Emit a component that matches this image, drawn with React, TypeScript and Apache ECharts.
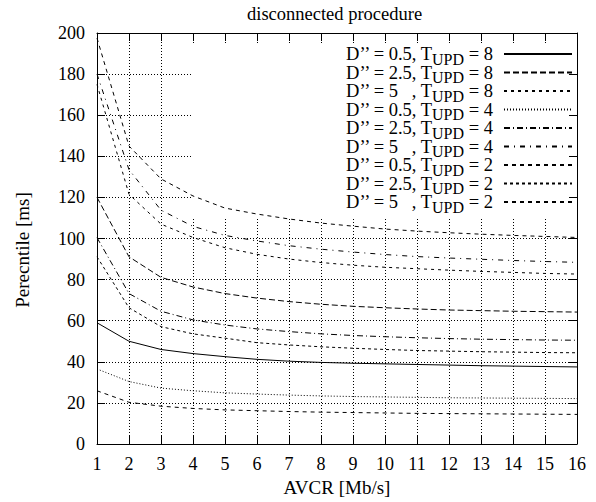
import { useEffect, useRef } from 'react';
import * as echarts from 'echarts';

// AVCR [Mb/s]
const xValues = [1, 2, 3, 4, 5, 6, 7, 8, 9, 10, 11, 12, 13, 14, 15, 16];

// Percentile [ms] for each (D'', T_UPD)
const d05t8 = [59, 50, 46, 44, 42.5, 41.2, 40.3, 39.7, 39.3, 39, 38.7, 38.4, 38.1, 37.9, 37.7, 37.5];
const d25t8 = [120, 91.1, 81.1, 76.4, 73.2, 71, 69.3, 68, 67, 66.3, 65.7, 65.2, 64.9, 64.6, 64.4, 64.2];
const d5t8 = [175, 121.5, 107, 100.5, 95.5, 92.3, 90, 88.3, 87, 86, 85.3, 84.6, 84, 83.5, 83, 82.7];
const d05t4 = [36.5, 30.4, 27.2, 25.9, 24.9, 24.3, 23.8, 23.4, 23.1, 22.9, 22.7, 22.5, 22.4, 22.3, 22.2, 22.1];
const d25t4 = [100.4, 73.2, 64.6, 60.4, 57.9, 56, 54.7, 53.6, 52.8, 52.2, 51.7, 51.3, 51, 50.8, 50.6, 50.5];
const d5t4 = [180, 133.5, 113.8, 105.9, 101.5, 98.8, 96.5, 94.8, 93.4, 92.2, 91.2, 90.5, 89.9, 89.3, 88.8, 88.4];
const d05t2 = [25.9, 20.3, 18.4, 17.3, 16.6, 16.2, 15.8, 15.5, 15.3, 15.1, 14.9, 14.8, 14.7, 14.6, 14.5, 14.4];
const d25t2 = [91.1, 66.3, 57.1, 53.6, 51.5, 49.3, 48.2, 47.3, 46.6, 46, 45.5, 45.2, 44.9, 44.7, 44.5, 44.4];
const d5t2 = [197.5, 145, 129, 120.7, 114.8, 111.9, 109.5, 107.5, 106, 104.6, 103.6, 102.8, 102.1, 101.5, 101, 100.5];

const seriesValues = [d05t8, d25t8, d5t8, d05t4, d25t4, d5t4, d05t2, d25t2, d5t2];
const dLabels = ['0.5', '2.5', '5\u00A0\u00A0\u00A0', '0.5', '2.5', '5\u00A0\u00A0\u00A0', '0.5', '2.5', '5\u00A0\u00A0\u00A0'];
const tLabels = ['8', '8', '8', '4', '4', '4', '2', '2', '2'];
const seriesNames = dLabels.map((d, i) => `D’’ = ${d.trim()}, T_UPD = ${tLabels[i]}`);

const yTicks = { min: 0, max: 200, interval: 20 };
const xTicks = { min: 1, max: 16, interval: 1 };

// styles (separate from data)
const dashes: any[] = ['solid', [6, 3], [3, 4], [1, 2], [6, 3, 1, 3], [5, 5, 1, 5], [4, 4], [3, 3], [4, 4]];
const FONT = '"Liberation Serif", "Times New Roman", serif';

export default function App() {
  const ref = useRef<HTMLDivElement>(null);
  useEffect(() => {
    document.body.style.margin = '0';
    const chart = echarts.init(ref.current!, null, { renderer: 'svg' });
    const axisCommon = {
      axisLine: { show: true, onZero: false, lineStyle: { color: '#000', width: 1 } },
      axisTick: { show: true, inside: true, length: 8, lineStyle: { color: '#000', width: 1 } },
    };
    const option: any = {
      animation: false,
      backgroundColor: '#fff',
      title: {
        text: 'disconnected procedure',
        left: 247,
        top: 4,
        padding: 0,
        textStyle: { fontFamily: FONT, fontSize: 18.5, fontWeight: 'normal', color: '#000' },
      },
      grid: { left: 97, right: 19, top: 33, bottom: 52 },
      xAxis: [
        {
          type: 'value',
          ...xTicks,
          name: 'AVCR [Mb/s]',
          nameLocation: 'middle',
          nameGap: 34,
          nameTextStyle: { fontFamily: FONT, fontSize: 19, color: '#000' },
          ...axisCommon,
          axisLabel: { margin: 11, fontFamily: FONT, fontSize: 18, color: '#000' },
          splitLine: { show: true, lineStyle: { color: '#000', type: [1, 2], width: 1 } },
        },
        {
          type: 'value',
          position: 'top',
          ...xTicks,
          ...axisCommon,
          axisLabel: { show: false },
          splitLine: { show: false },
        },
      ],
      yAxis: [
        {
          type: 'value',
          ...yTicks,
          ...axisCommon,
          axisLabel: { margin: 12, fontFamily: FONT, fontSize: 18, color: '#000' },
          splitLine: { show: true, lineStyle: { color: '#000', type: [1, 2], width: 1 } },
        },
        {
          type: 'value',
          position: 'right',
          ...yTicks,
          ...axisCommon,
          axisLabel: { show: false },
          splitLine: { show: false },
        },
      ],
      legend: {
        orient: 'vertical',
        right: 23,
        top: 41,
        padding: 0,
        itemGap: -7.5,
        itemWidth: 68,
        itemHeight: 19,
        align: 'right',
        selectedMode: false,
        data: seriesNames,
        itemStyle: { opacity: 0 },
        formatter: (name: string) => {
          const i = seriesNames.indexOf(name);
          return `{a|D’’ = ${dLabels[i]}, T}{s|UPD}{b| = ${tLabels[i]}}`;
        },
        textStyle: {
          fontFamily: FONT,
          fontSize: 18.5,
          color: '#000',
          rich: {
            a: { fontFamily: FONT, fontSize: 18.5, lineHeight: 19, color: '#000' },
            s: { fontFamily: FONT, fontSize: 16, lineHeight: 19, padding: [10, 0, 0, 0], color: '#000' },
            b: { fontFamily: FONT, fontSize: 18.5, lineHeight: 19, color: '#000', padding: [0, 6, 0, 0] },
          },
        },
      },
      graphic: [
        {
          type: 'rect',
          z: 1,
          shape: { x: 192, y: 44, width: 377, height: 173 },
          style: { fill: '#fff' },
          silent: true,
        },
        {
          type: 'text',
          x: 22,
          y: 250,
          rotation: Math.PI / 2,
          style: {
            text: 'Perecntile [ms]',
            font: `19px ${FONT}`,
            fill: '#000',
            align: 'center',
            verticalAlign: 'middle',
          },
        },
      ],
      series: seriesValues.map((vals, i) => ({
        name: seriesNames[i],
        type: 'line',
        data: vals.map((v, j) => [xValues[j], v]),
        symbol: 'none',
        z: 3,
        lineStyle: { color: '#000', width: 1, type: dashes[i] },
        itemStyle: { color: '#000' },
      })),
    };
    chart.setOption(option);
    return () => chart.dispose();
  }, []);
  return <div ref={ref} style={{ width: 596, height: 502 }} />;
}
